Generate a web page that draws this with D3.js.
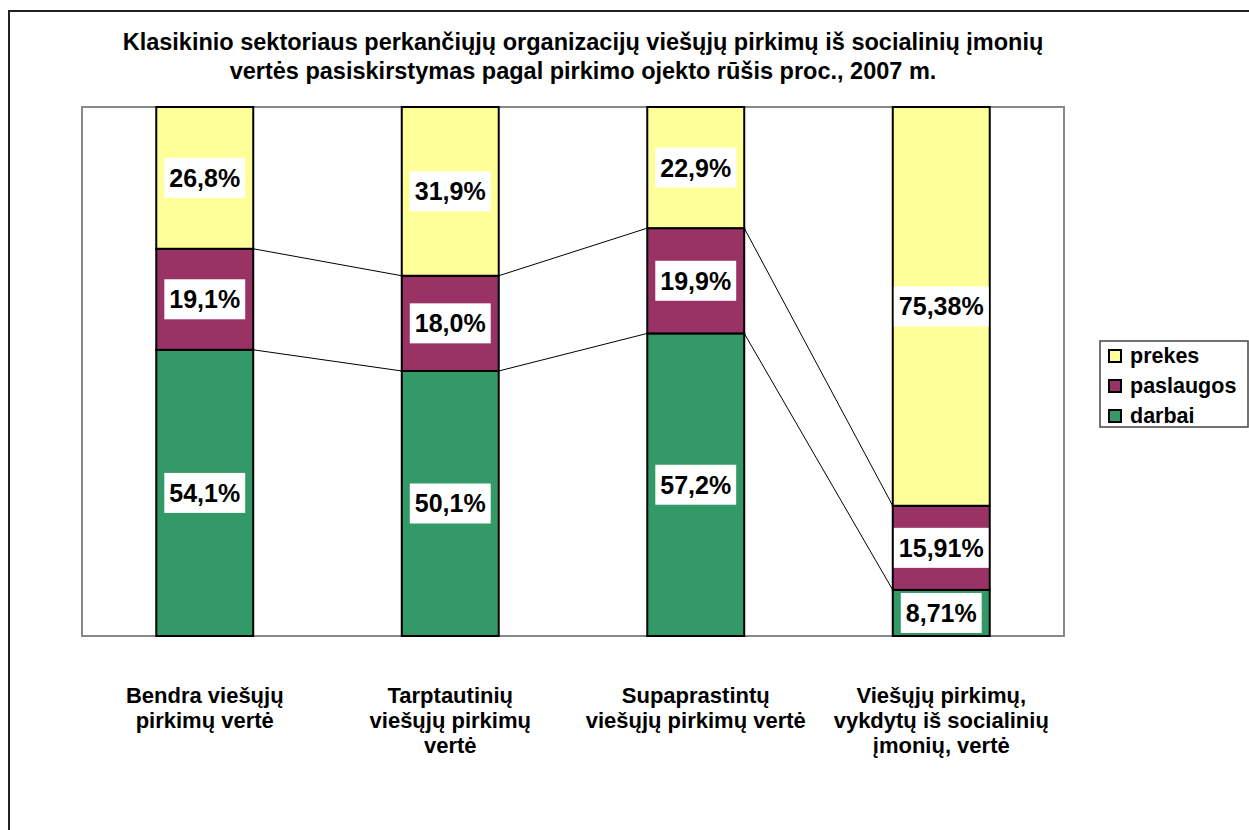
<!DOCTYPE html>
<html><head><meta charset="utf-8">
<script src="https://cdn.jsdelivr.net/npm/d3@7"></script>
<style>
html,body{margin:0;padding:0;background:#fff;}
svg{display:block;}
text{font-family:"Liberation Sans",Arial,sans-serif;font-weight:bold;fill:#000;}
</style></head>
<body>
<svg id="c" width="1249" height="830"></svg>
<script>
const titleLines = ["Klasikinio sektoriaus perkančiųjų organizacijų viešųjų pirkimų iš socialinių įmonių",
                    "vertės pasiskirstymas pagal pirkimo ojekto rūšis proc., 2007 m."];
const categories = ["Bendra viešųjų pirkimų vertė","Tarptautinių viešųjų pirkimų vertė","Supaprastintų viešųjų pirkimų vertė","Viešųjų pirkimų, vykdytų iš socialinių įmonių, vertė"];
const categoryLines = [["Bendra viešųjų","pirkimų vertė"],["Tarptautinių","viešųjų pirkimų","vertė"],["Supaprastintų","viešųjų pirkimų vertė"],["Viešųjų pirkimų,","vykdytų iš socialinių","įmonių, vertė"]];
const seriesNames = ["darbai","paslaugos","prekes"];
const darbai    = [54.1, 50.1, 57.2, 8.71];
const paslaugos = [19.1, 18.0, 19.9, 15.91];
const prekes    = [26.8, 31.9, 22.9, 75.38];
const decimals  = [1, 1, 1, 2];
const legendOrder = ["prekes","paslaugos","darbai"];
const colors = {darbai:"#339966", paslaugos:"#993366", prekes:"#FFFF99"};

const svg = d3.select("#c");
const plot = {x0:82, x1:1064, y0:107, y1:636};

// outer frame (top & left visible)
svg.append("path").attr("d",`M9,830V11H1249`).attr("fill","none").attr("stroke","#222").attr("stroke-width",2);

// title
svg.append("g").selectAll("text").data(titleLines).join("text")
  .attr("x",583).attr("y",(d,i)=>50+i*29).attr("text-anchor","middle")
  .attr("font-size",23.5).text(d=>d);

const x = d3.scaleBand().domain(categories).range([plot.x0, plot.x1]).padding(0);
const barW = x.bandwidth()*0.395;
const y = d3.scaleLinear().domain([0,100]).range([plot.y1, plot.y0]);

// plot area
svg.append("rect").attr("x",plot.x0).attr("y",plot.y0).attr("width",plot.x1-plot.x0).attr("height",plot.y1-plot.y0)
  .attr("fill","#fff").attr("stroke","#888").attr("stroke-width",2);

const valuesBySeries = {darbai, paslaugos, prekes};
const table = categories.map((c,i)=>{const o={cat:c}; seriesNames.forEach(s=>o[s]=valuesBySeries[s][i]); return o;});
const stacked = d3.stack().keys(seriesNames)(table);

// series lines
const linesG = svg.append("g");
stacked.forEach(layer=>{
  for(let i=0;i<layer.length-1;i++){
    const a=layer[i][1], b=layer[i+1][1];
    if (Math.abs(a-100)<1e-6 && Math.abs(b-100)<1e-6) continue;
    linesG.append("line")
      .attr("x1", x(categories[i])+x.bandwidth()/2+barW/2).attr("y1", y(a))
      .attr("x2", x(categories[i+1])+x.bandwidth()/2-barW/2).attr("y2", y(b))
      .attr("stroke","#000").attr("stroke-width",1);
  }
});

// bars
const barsG = svg.append("g");
stacked.forEach(layer=>{
  barsG.selectAll(null).data(layer).join("rect")
    .attr("x",(d,i)=>x(categories[i])+x.bandwidth()/2-barW/2)
    .attr("y",d=>y(d[1])).attr("width",barW).attr("height",d=>y(d[0])-y(d[1]))
    .attr("fill",colors[layer.key]).attr("stroke","#000").attr("stroke-width",2);
});

// labels
const labG = svg.append("g");
stacked.forEach(layer=>{
  layer.forEach((d,i)=>{
    const cx = x(categories[i])+x.bandwidth()/2;
    const cy = (y(d[0])+y(d[1]))/2;
    const txt = (d[1]-d[0]).toFixed(decimals[i]).replace(".",",")+"%";
    const g = labG.append("g");
    const t = g.append("text").attr("x",cx).attr("y",cy+9).attr("text-anchor","middle").attr("font-size",25).text(txt);
    const w = t.node().getComputedTextLength();
    g.insert("rect","text").attr("x",cx-w/2-5).attr("y",cy-20).attr("width",w+10).attr("height",40).attr("fill","#fff");
  });
});

// category labels
const catG = svg.append("g");
categories.forEach((c,i)=>{
  catG.selectAll(null).data(categoryLines[i]).join("text")
    .attr("x", x(c)+x.bandwidth()/2).attr("y",(d,j)=>703+j*25).attr("text-anchor","middle")
    .attr("font-size",22).text(d=>d);
});

// legend
const lg = svg.append("g");
lg.append("rect").attr("x",1100).attr("y",341).attr("width",148).attr("height",86).attr("fill","#fff").attr("stroke","#444").attr("stroke-width",1.5);
legendOrder.forEach((s,i)=>{
  const base = 363+i*30;
  lg.append("rect").attr("x",1109).attr("y",base-13).attr("width",12).attr("height",12).attr("fill",colors[s]).attr("stroke","#000").attr("stroke-width",2);
  lg.append("text").attr("x",1130).attr("y",base).attr("font-size",21.5).text(s);
});
</script>
</body></html>
